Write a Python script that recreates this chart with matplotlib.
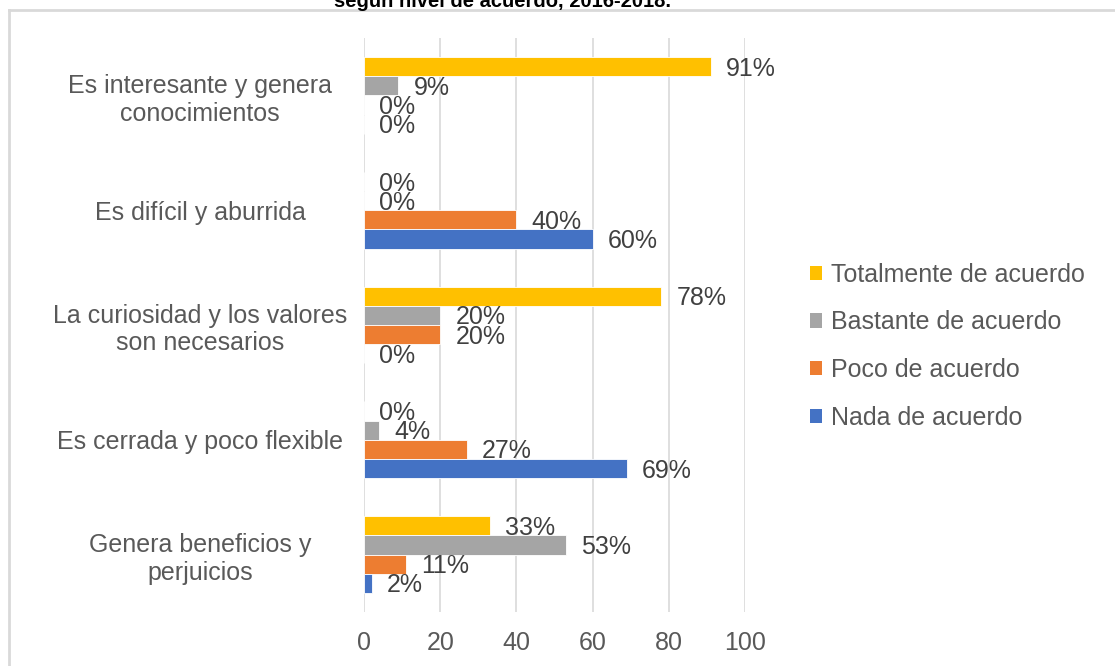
import numpy as np
import matplotlib
matplotlib.use('Agg')
import matplotlib.pyplot as plt
from matplotlib.patches import Patch
from matplotlib.lines import Line2D

plt.rcParams['font.family'] = ['Liberation Sans', 'DejaVu Sans']

# Data
categories = ['Es interesante y genera\nconocimientos',
              'Es difícil y aburrida',
              'La curiosidad y los valores\nson necesarios',
              'Es cerrada y poco flexible',
              'Genera beneficios y\nperjuicios']
series = ['Totalmente de acuerdo', 'Bastante de acuerdo',
          'Poco de acuerdo', 'Nada de acuerdo']
totalmente = [91, 0, 78, 0, 33]
bastante = [9, 0, 20, 4, 53]
poco = [0, 40, 20, 27, 11]
nada = [0, 60, 0, 69, 2]
values = [totalmente, bastante, poco, nada]
colors = ['#FFC000', '#A5A5A5', '#ED7D31', '#4472C4']
xticks = [0, 20, 40, 60, 80, 100]
title = 'según nivel de acuerdo, 2016-2018.'

W, H = 1115, 666
fig = plt.figure(figsize=(W / 100, H / 100), dpi=100)
ax = fig.add_axes([364 / W, 1 - 612 / H, 381 / W, 574 / H])

h = 0.167
y = np.arange(len(categories))
for i, (vals, col) in enumerate(zip(values, colors)):
    ypos = y + (i - 1.5) * h
    ax.barh(ypos, vals, height=h, color=col, edgecolor='white', linewidth=0.6)
    for yy, v in zip(ypos, vals):
        ax.annotate(f'{v}%', xy=(v, yy), xytext=(11, -1.5),
                    textcoords='offset points', va='center', ha='left',
                    fontsize=18, color='#404040')

ax.set_xlim(0, 100)
ax.set_ylim(len(categories) - 0.5, -0.5)
ax.set_xticks(xticks)
ax.set_yticks(y)
ax.set_yticklabels(categories, ha='center', multialignment='center')
ax.tick_params(axis='y', length=0, pad=118, labelsize=18, labelcolor='#595959')
ax.tick_params(axis='x', length=0, pad=14, labelsize=18, labelcolor='#595959')
ax.grid(axis='x', color='#D9D9D9', linewidth=1.2)
ax.set_axisbelow(True)
for s in ax.spines.values():
    s.set_visible(False)

handles = [Patch(facecolor=c, edgecolor='none') for c in colors]
fig.legend(handles, series, loc='upper left',
           bbox_to_anchor=(787 / W, 1 - 240 / H), frameon=False,
           fontsize=18, labelcolor='#595959', handlelength=0.5,
           handleheight=0.5, handletextpad=0.35, labelspacing=0.95)

# chart frame (cropped)
fig.add_artist(Line2D([9 / W, 9 / W], [0, 1 - 10 / H], color='#D9D9D9',
                      linewidth=2, transform=fig.transFigure))
fig.add_artist(Line2D([9 / W, 1], [1 - 10 / H, 1 - 10 / H], color='#D9D9D9',
                      linewidth=2, transform=fig.transFigure))

# title, cut off at the top
fig.text(503 / W, 1 - 7 / H, title, ha='center', va='baseline',
         fontsize=14.5, fontweight='bold', color='black')

fig.savefig('out.png', dpi=100)
